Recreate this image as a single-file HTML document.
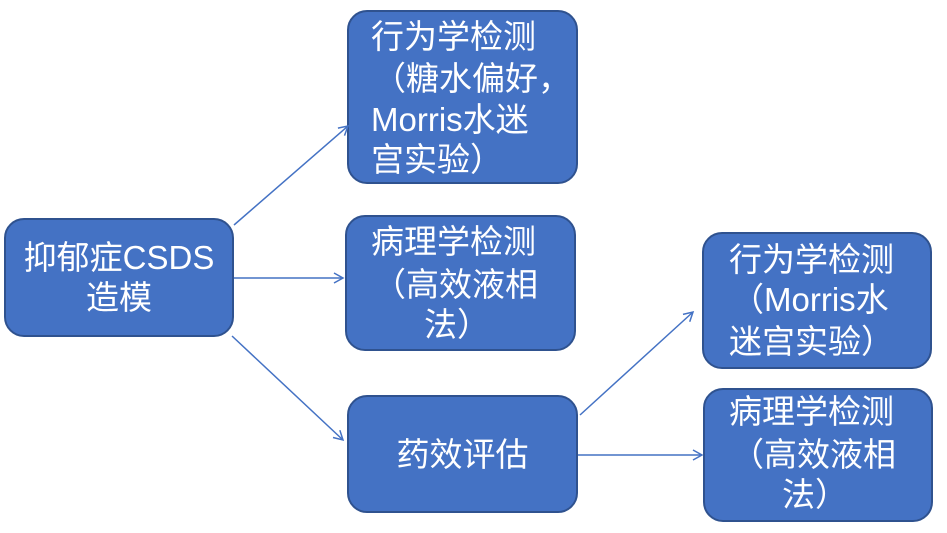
<!DOCTYPE html>
<html><head><meta charset="utf-8"><style>
body{margin:0;width:947px;height:533px;background:#fff;position:relative;overflow:hidden;font-family:"Liberation Sans","Noto Sans CJK SC",sans-serif;}
.b{position:absolute;background:#4472C4;border:2px solid #2F528F;border-radius:20px;box-sizing:border-box;}
.t{position:absolute;color:#fff;font-size:33px;line-height:40px;white-space:nowrap;}
svg{position:absolute;left:0;top:0;}
</style></head><body>
<div class="b" style="left:4px;top:218px;width:230px;height:119px"></div>
<div class="b" style="left:347px;top:10px;width:231px;height:174px"></div>
<div class="b" style="left:345px;top:215px;width:231px;height:136px"></div>
<div class="b" style="left:347px;top:395px;width:231px;height:118px"></div>
<div class="b" style="left:702px;top:232px;width:230px;height:137px"></div>
<div class="b" style="left:703px;top:388px;width:230px;height:134px"></div>

<div class="t" style="left:4px;width:230px;text-align:center;top:238px">抑郁症CSDS</div>
<div class="t" style="left:4px;width:230px;text-align:center;top:278px">造模</div>

<div class="t" style="left:371px;top:17px">行为学检测</div>
<div class="t" style="left:373px;top:59px">（糖水偏好，</div>
<div class="t" style="left:371px;top:100px">Morris水迷</div>
<div class="t" style="left:371px;top:140px">宫实验）</div>

<div class="t" style="left:371px;top:222px">病理学检测</div>
<div class="t" style="left:373px;top:265px">（高效液相</div>
<div class="t" style="left:424px;top:305px">法）</div>

<div class="t" style="left:347px;width:231px;text-align:center;top:435px">药效评估</div>

<div class="t" style="left:729px;top:240px">行为学检测</div>
<div class="t" style="left:731px;top:280px">（Morris水</div>
<div class="t" style="left:729px;top:322px">迷宫实验）</div>

<div class="t" style="left:729px;top:392px">病理学检测</div>
<div class="t" style="left:731px;top:435px">（高效液相</div>
<div class="t" style="left:782px;top:475px">法）</div>

<svg width="947" height="533">
<defs><marker id="a" markerWidth="12" markerHeight="12" refX="10" refY="6" orient="auto" markerUnits="userSpaceOnUse"><path d="M1,1 L10,6 L1,11" fill="none" stroke="#4472C4" stroke-width="1.5"/></marker></defs>
<g stroke="#4472C4" stroke-width="1.5" fill="none" marker-end="url(#a)">
<line x1="234" y1="225" x2="348" y2="126"/>
<line x1="234" y1="278" x2="343" y2="278"/>
<line x1="232" y1="336" x2="343" y2="440"/>
<line x1="580" y1="415" x2="693" y2="312"/>
<line x1="578" y1="455" x2="702" y2="455"/>
</g></svg>
</body></html>
